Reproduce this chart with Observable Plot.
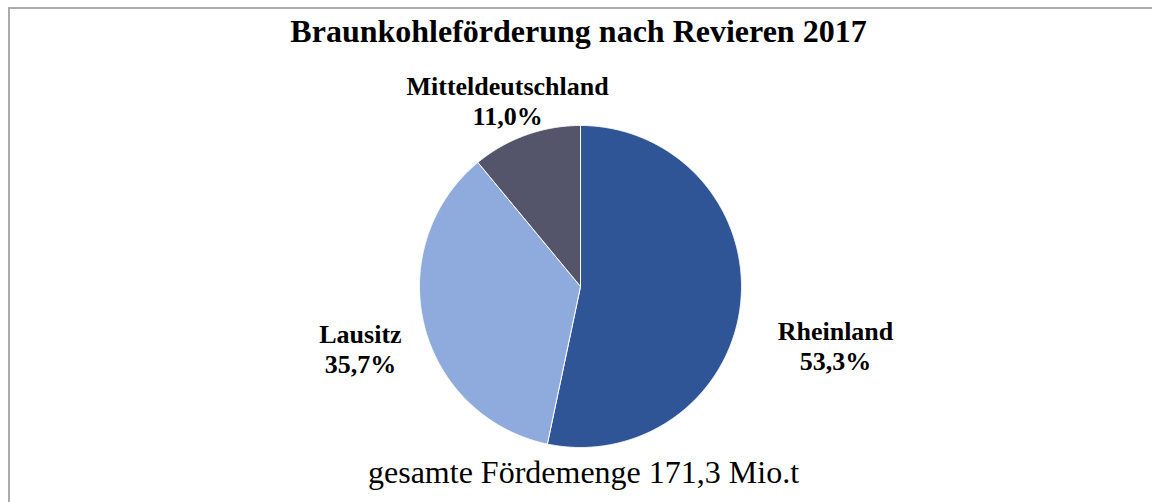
<!DOCTYPE html>
<html>
<head>
<meta charset="utf-8">
<script src="https://cdn.jsdelivr.net/npm/d3@7"></script>
<script src="https://cdn.jsdelivr.net/npm/@observablehq/plot@0.6"></script>
<style>
  html, body { margin: 0; padding: 0; background: #fff; overflow: hidden; width: 1152px; height: 502px; }
  #frame { position: absolute; left: 8px; top: 7px; width: 1170px; height: 520px; border: 2px solid #ababab; box-sizing: border-box; }
  #title { position: absolute; left: 0; top: 15px; width: 1157px; text-align: center; font: bold 32px/32px "Liberation Serif", "Times New Roman", serif; color: #000; white-space: nowrap; }
  #chart { position: absolute; left: 0; top: 50px; }
  #caption { position: absolute; left: 0; top: 456px; width: 1167px; text-align: center; font: 32px/32px "Liberation Serif", "Times New Roman", serif; color: #000; white-space: nowrap; }
</style>
</head>
<body>
<div id="frame"></div>
<div id="title">Braunkohleförderung nach Revieren 2017</div>
<div id="chart"></div>
<div id="caption">gesamte Fördemenge 171,3 Mio.t</div>
<script>
// Data
const regions = ["Rheinland", "Lausitz", "Mitteldeutschland"];
const shares = [53.3, 35.7, 11.0];
const colors = ["#2f5597", "#8faadc", "#54556b"];
// label offsets (in pie-radius units) relative to the slice's mid-angle point on the rim
const labelOffsets = [[0.589, -0.262], [-0.396, -0.142], [-0.114, 0.216]];

const W = 1152, H = 400, R = 161, CX = 580, CY = 236;
const xDomain = [-CX / R, (W - CX) / R];
const yDomain = [-(H - CY) / R, CY / R];

const pie = d3.pie().sort(null).value(d => d.share).startAngle(0).endAngle(2 * Math.PI);
const arcs = pie(regions.map((name, i) => ({name, share: shares[i], i})));

// polygon outline for each slice (center + arc)
const poly = [];
for (const a of arcs) {
  const name = a.data.name;
  poly.push({name, x: 0, y: 0});
  const steps = Math.max(2, Math.ceil((a.endAngle - a.startAngle) / (Math.PI / 720)));
  for (let k = 0; k <= steps; k++) {
    const t = a.startAngle + (a.endAngle - a.startAngle) * k / steps;
    poly.push({name, x: Math.sin(t), y: Math.cos(t)});
  }
  poly.push({name, x: 0, y: 0});
}

const labels = arcs.map(a => {
  const mid = (a.startAngle + a.endAngle) / 2;
  const off = labelOffsets[a.data.i];
  return {
    x: Math.sin(mid) + off[0],
    y: Math.cos(mid) + off[1],
    text: `${a.data.name}\n${a.data.share.toFixed(1).replace(".", ",")}%`
  };
});

const chart = Plot.plot({
  width: W,
  height: H,
  margin: 0,
  x: {domain: xDomain, axis: null},
  y: {domain: yDomain, axis: null},
  color: {domain: regions, range: colors},
  style: {background: "transparent", overflow: "visible"},
  marks: [
    Plot.line(poly, {x: "x", y: "y", z: "name", fill: "name", stroke: "white", strokeWidth: 1, curve: "linear"}),
    Plot.text(labels, {
      x: "x", y: "y", text: "text",
      fontFamily: "'Liberation Serif', 'Times New Roman', serif",
      fontWeight: "bold", fontSize: 26, lineHeight: 30 / 26,
      fill: "#000", textAnchor: "middle", lineAnchor: "middle"
    })
  ]
});
document.getElementById("chart").appendChild(chart);
</script>
</body>
</html>
